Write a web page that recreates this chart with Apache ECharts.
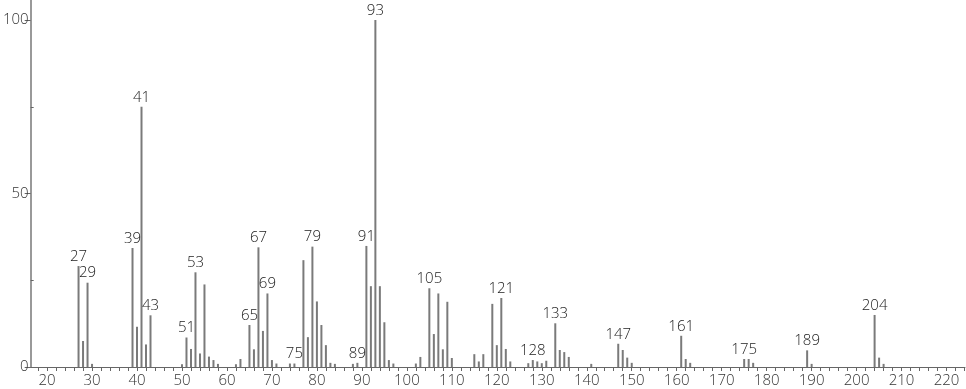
<!DOCTYPE html>
<html><head><meta charset="utf-8">
<script src="https://cdn.jsdelivr.net/npm/echarts@6/dist/echarts.min.js"></script>
<style>html,body{margin:0;padding:0;background:#fff}#c{width:966px;height:389px}</style>
</head><body><div id="c"></div>
<script>
const mz = [27,28,29,30,39,40,41,42,43,50,51,52,53,54,55,56,57,58,62,63,65,66,67,68,69,70,71,74,75,77,78,79,80,81,82,83,84,88,89,91,92,93,94,95,96,97,102,103,105,106,107,108,109,110,115,116,117,119,120,121,122,123,127,128,129,130,131,133,134,135,136,141,147,148,149,150,161,162,163,175,176,177,189,190,204,205,206];
const intensity = [29.1,7.5,24.3,0.9,34.3,11.6,75.0,6.5,14.9,0.8,8.5,5.2,27.3,3.9,23.8,3.0,2.0,0.9,0.8,2.3,12.1,5.1,34.5,10.4,21.2,2.0,1.0,1.0,1.0,30.8,8.6,34.7,18.9,12.1,6.3,1.2,0.9,0.9,1.2,34.9,23.3,100,23.3,12.9,2.0,1.0,1.0,2.9,22.7,9.5,21.2,5.1,18.8,2.6,3.7,1.6,3.7,18.2,6.3,19.9,5.2,1.6,1.1,2.0,1.6,1.1,1.8,12.6,4.9,4.3,2.9,0.9,6.7,4.9,2.7,1.2,9.0,2.3,1.2,2.3,2.3,1.2,4.8,0.9,15.0,2.7,0.9];
const labeled = [27,29,39,41,43,51,53,65,67,69,75,79,89,91,93,105,121,128,133,147,161,175,189,204];
const xLabels = [20,30,40,50,60,70,80,90,100,110,120,130,140,150,160,170,180,190,200,210,220];
const yLabels = [0,50,100];

const xTicks = [];
for (let v = 18; v <= 224; v += 2) xTicks.push(v);

const data = mz.map((m, i) => ({
  value: [m, intensity[i]],
  label: { show: labeled.includes(m) }
}));

const font = 'Open Sans';
const chart = echarts.init(document.getElementById('c'));
chart.setOption({
  animation: false,
  grid: { left: 28, right: 1, top: 0, bottom: 22 },
  xAxis: {
    type: 'value', min: 16.36, max: 224.1,
    splitLine: { show: false },
    axisLine: { lineStyle: { color: '#666', width: 1 } },
    axisTick: { customValues: xTicks, length: 4, lineStyle: { color: '#666' } },
    axisLabel: { customValues: xLabels, color: '#333', fontSize: 15, fontWeight: 300, fontFamily: font, margin: 6 }
  },
  yAxis: [{
    type: 'value', min: 0, max: 105.8,
    splitLine: { show: false },
    axisLine: { show: true, lineStyle: { color: '#999', width: 2 } },
    axisTick: { show: true, customValues: yLabels, length: 6, lineStyle: { color: '#666' } },
    axisLabel: { customValues: yLabels, color: '#333', fontSize: 15, fontWeight: 300, fontFamily: font, margin: 2 }
  }, {
    type: 'value', min: 0, max: 105.8, position: 'left',
    splitLine: { show: false },
    axisLine: { show: false },
    axisTick: { show: true, inside: true, customValues: [25, 75], length: 3, lineStyle: { color: '#666' } },
    axisLabel: { show: false }
  }],
  series: [{
    type: 'bar',
    barWidth: 2,
    itemStyle: { color: '#7a7a7a' },
    label: {
      position: 'top', distance: 2, color: '#222', fontSize: 15, fontWeight: 300, fontFamily: font,
      formatter: p => String(p.value[0])
    },
    data: data
  }]
});
</script>
</body></html>
